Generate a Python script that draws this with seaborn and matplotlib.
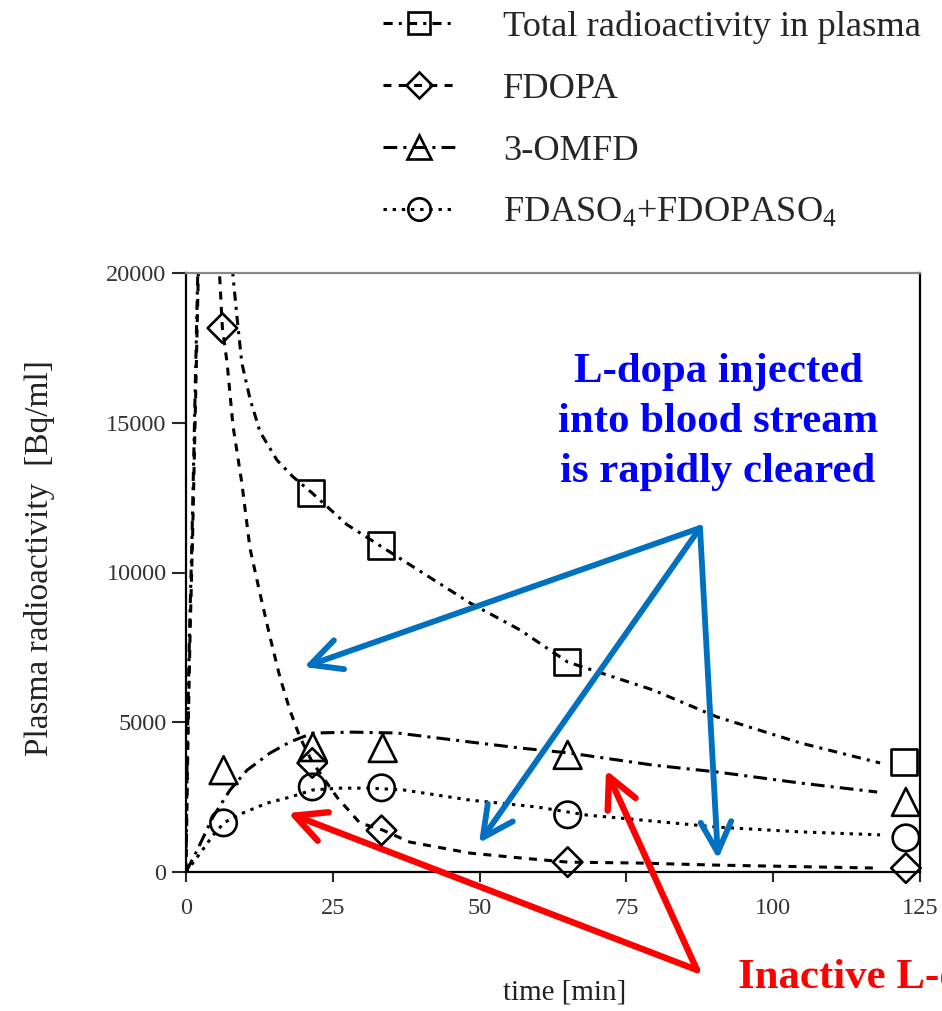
import matplotlib
matplotlib.use("Agg")
import matplotlib.pyplot as plt
from matplotlib.lines import Line2D
import seaborn as sns
import pandas as pd

# ---------------- data ----------------
# fitted curves
t_total = [0, 0.2, 0.6, 1.0, 1.5, 2.0, 4.5, 8.0, 8.7, 9.5, 10.9, 12.6, 15.5, 18.2, 21.5, 27.4,
           33.0, 37.0, 48.4, 56.9, 65.0, 79.5, 90.4, 104.6, 118.2]
y_total = [0, 4000, 8000, 11000, 15500, 20000, 30000, 19900, 18500, 17000, 15800, 14700, 13750,
           13200, 12650, 11600, 10900, 10400, 8980, 8080, 7010, 6080, 5180, 4310, 3640]

t_fdopa = [0, 0.3, 0.7, 1.1, 1.6, 2.1, 4.0, 5.7, 6.2, 7.0, 8.0, 9.5, 10.9, 12.6, 14.3, 16.0, 17.7,
           19.4, 21.5, 25.7, 29.6, 33.5, 38.1, 48.4, 56.9, 65.0, 76.8, 90.4, 118.0]
y_fdopa = [0, 4000, 8000, 11000, 15500, 20000, 26000, 20000, 18150, 17000, 14900, 13000, 10800,
           9300, 7850, 6500, 5400, 4500, 3670, 2500, 1640, 1400, 1000, 630, 470, 330, 300, 230, 130]

t_omfd = [0, 1.9, 4.6, 7.5, 10.4, 14.3, 17.7, 21.6, 28.4, 36.0, 48.4, 56.9, 65.4, 79.5, 90.4,
          104.6, 117.7]
y_omfd = [0, 730, 1840, 2740, 3400, 3970, 4340, 4640, 4670, 4640, 4340, 4140, 3970, 3570, 3340,
          2970, 2670]

t_sulf = [0, 2.5, 4.5, 6.5, 9.7, 13.8, 17.7, 21.6, 26.2, 31.3, 37.0, 48.4, 59.8, 68.3, 79.5,
          90.4, 104.6, 118.2]
y_sulf = [0, 650, 1200, 1650, 1970, 2300, 2500, 2740, 2800, 2800, 2740, 2400, 2170, 1900, 1700,
          1500, 1340, 1240]

# measured points
pt_total_t = [21.3, 33.2, 64.9, 122.3]
pt_total_y = [12650, 10900, 7010, 3670]
pt_fdopa_t = [6.2, 21.5, 33.3, 65.0, 122.6]
pt_fdopa_y = [18160, 3640, 1390, 330, 130]
pt_omfd_t = [6.4, 21.6, 33.5, 65.0, 122.6]
pt_omfd_y = [3400, 4170, 4140, 3910, 2340]
pt_sulf_t = [6.4, 21.5, 33.3, 65.0, 122.6]
pt_sulf_y = [1640, 2840, 2810, 1910, 1140]

labels = ["Total radioactivity in plasma", "FDOPA", "3-OMFD", "FDASO$_4$+FDOPASO$_4$"]
x_ticks = [0, 25, 50, 75, 100, 125]
y_ticks = [0, 5000, 10000, 15000, 20000]

# ---------------- style ----------------
sns.set_style("white")
SERIF = ["Liberation Serif", "DejaVu Serif"]
plt.rcParams["font.family"] = SERIF
plt.rcParams["mathtext.fontset"] = "custom"
plt.rcParams["mathtext.rm"] = "Liberation Serif"
plt.rcParams["mathtext.it"] = "Liberation Serif:italic"

W, H = 942, 1011
fig = plt.figure(figsize=(W / 100, H / 100), dpi=100)
ax = fig.add_axes([186 / W, 1 - 872 / H, (920 - 186) / W, (872 - 273) / H])

styles = [
    dict(ls=(0, (3, 2, 1, 2)), marker="s", ms=19),
    dict(ls=(0, (2.6, 2.4)), marker="D", ms=15),
    dict(ls=(0, (4.5, 2, 1, 2)), marker="^", ms=20),
    dict(ls=(0, (1.1, 1.9)), marker="o", ms=19),
]
curves = [(t_total, y_total), (t_fdopa, y_fdopa), (t_omfd, y_omfd), (t_sulf, y_sulf)]
points = [(pt_total_t, pt_total_y), (pt_fdopa_t, pt_fdopa_y), (pt_omfd_t, pt_omfd_y),
          (pt_sulf_t, pt_sulf_y)]

for (tc, yc), (tp, yp), st in zip(curves, points, styles):
    sns.lineplot(x=tc, y=yc, ax=ax, color="black", lw=2.2, linestyle=st["ls"],
                 sort=False, estimator=None, legend=False)
    sns.scatterplot(x=tp, y=yp, ax=ax, marker=st["marker"], s=st["ms"] ** 2,
                    facecolor="none", edgecolor="black", linewidth=1.9, clip_on=False,
                    zorder=5, legend=False)

ax.set_xlim(0, 125)
ax.set_ylim(0, 20000)
ax.set_xticks(x_ticks)
ax.set_yticks(y_ticks)
ax.set_xticklabels([str(v) for v in x_ticks])
ax.set_yticklabels([str(v) for v in y_ticks])
ax.tick_params(axis="y", direction="out", length=10, width=1.5, pad=4, labelsize=17.5,
               labelcolor="#333333", left=True)
ax.tick_params(axis="x", direction="out", length=7, width=1.5, pad=12, labelsize=17.5,
               labelcolor="#333333", bottom=True)
for side in ["left", "bottom", "right"]:
    ax.spines[side].set_color("black")
    ax.spines[side].set_linewidth(1.6)
ax.spines["top"].set_color("#888888")
ax.spines["top"].set_linewidth(1.6)

ax.set_xlabel("")
ax.set_ylabel("")
fig.text(565 / W, 1 - 993 / H, "time [min]", ha="center", va="center", fontsize=21,
         color="#222222")
fig.text(40 / W, 1 - 558 / H, "Plasma radioactivity  [Bq/ml]", ha="center", va="center",
         rotation=90, fontsize=24, color="#222222")

# legend
handles = [Line2D([0], [0], color="black", lw=2.2, linestyle=st["ls"], marker=st["marker"],
                  markersize=st["ms"] * 0.85, markerfacecolor="none", markeredgecolor="black",
                  markeredgewidth=1.9) for st in styles]
fig.legend(handles, labels, loc="upper left", bbox_to_anchor=(383 / W, 1 - 10 / H),
           frameon=False, fontsize=26.2, handlelength=1.98, handletextpad=1.32,
           labelspacing=0.79, borderaxespad=0, borderpad=0)

# annotations
def fp(x, y):
    return (x / W, 1 - y / H)

blue_txt = "#0000FF"
blue_arr = "#0070C0"
red = "#FF0000"
for yy, line in zip([372, 422, 472], ["L-dopa injected", "into blood stream", "is rapidly cleared"]):
    fig.text(*fp(718, yy), line, ha="center", va="center", fontsize=30.8, fontweight="bold",
             color=blue_txt)
fig.text(*fp(738, 978), "Inactive L-dopa metabolites", ha="left", va="center", fontsize=30.8,
         fontweight="bold", color=red)

for end in [(304, 667), (479, 843), (718, 859)]:
    ax.annotate("", xy=fp(*end), xytext=fp(700, 528), xycoords="figure fraction",
                textcoords="figure fraction",
                arrowprops=dict(arrowstyle="->,head_length=1.0,head_width=0.5", color=blue_arr,
                                lw=4.2, mutation_scale=22, shrinkA=0, shrinkB=0),
                annotation_clip=False)
for end in [(288, 813), (606, 770)]:
    ax.annotate("", xy=fp(*end), xytext=fp(697, 970), xycoords="figure fraction",
                textcoords="figure fraction",
                arrowprops=dict(arrowstyle="->,head_length=1.0,head_width=0.5", color=red,
                                lw=4.6, mutation_scale=22, shrinkA=0, shrinkB=0),
                annotation_clip=False)

fig.savefig("out.png", dpi=100, facecolor="white")
